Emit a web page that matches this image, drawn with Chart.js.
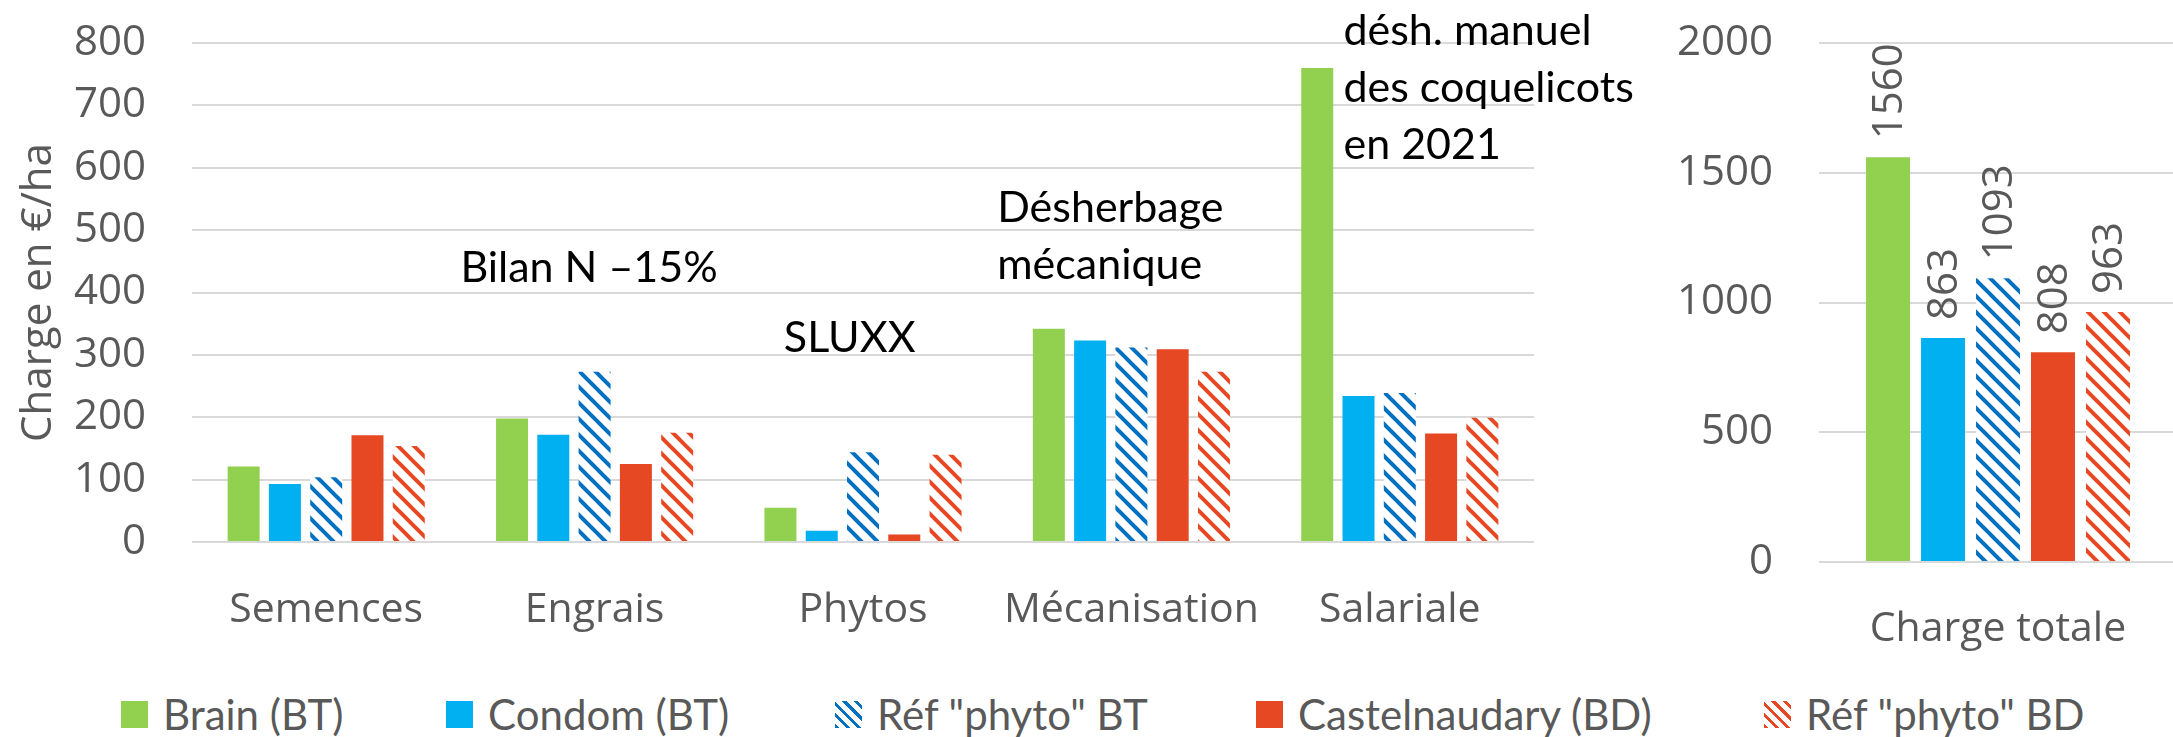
<!DOCTYPE html>
<html>
<head>
<meta charset="utf-8">
<script src="https://cdn.jsdelivr.net/npm/chart.js@4"></script>
<style>
  html, body { margin: 0; padding: 0; background: #fff; }
  body { width: 2173px; height: 737px; position: relative; overflow: hidden; }
  #left { position: absolute; left: 0; top: 0; width: 1700px; height: 660px; }
  #right { position: absolute; left: 1600px; top: 0; width: 577px; height: 660px; }
  .leg { position: absolute; top: 690px; height: 48px; line-height: 48px; display: flex; align-items: center;
         font-family: Lato, sans-serif; font-size: 42px; color: #595959; white-space: nowrap; }
  .leg i { display: inline-block; width: 27px; height: 27px; margin-right: 15px; }
</style>
</head>
<body>
<div id="left"><canvas id="leftChart"></canvas></div>
<div id="right"><canvas id="rightChart"></canvas></div>
<div id="legend"></div>
<script>
// categories and values
const categories = ['Semences', 'Engrais', 'Phytos', 'Mécanisation', 'Salariale'];
const seriesNames = ['Brain (BT)', 'Condom (BT)', 'Réf "phyto" BT', 'Castelnaudary (BD)', 'Réf "phyto" BD'];
const brain = [121, 198, 55, 342, 760];
const condom = [93, 172, 18, 323, 234];
const refBT = [104, 273, 144, 312, 239];
const castel = [171, 125, 12, 309, 174];
const refBD = [154, 175, 140, 273, 199];

const totalCategory = ['Charge totale'];
const totals = [1560, 863, 1093, 808, 963];

const leftMax = 800, leftStep = 100;
const rightMax = 2000, rightStep = 500;

// notes written on the left chart: text lines, category position, value of first baseline
const noteLines = [['Bilan N –15%'], ['SLUXX'], ['Désherbage', 'mécanique'], ['désh. manuel', 'des coquelicots', 'en 2021']];
const notePos = [0.5, 1.705, 2.5, 3.79];
const noteValue = [417, 304, 513, 796];

const colors = ['#92D050', '#00B0F0', '#0070C0', '#E64823', '#E64823'];
const hatched = [false, false, true, false, true];

function hatch(color) {
    const c = document.createElement('canvas');
    c.width = 16; c.height = 16;
    const g = c.getContext('2d');
    g.fillStyle = '#fff';
    g.fillRect(0, 0, 16, 16);
    g.strokeStyle = color;
    g.lineWidth = 4;
    for (const x0 of [-16, 0, 16]) {
        g.beginPath();
        g.moveTo(x0 - 2, -2);
        g.lineTo(x0 + 18, 18);
        g.stroke();
    }
    return g.createPattern(c, 'repeat');
}

function fillFor(i) {
    return hatched[i] ? hatch(colors[i]) : colors[i];
}

const gray = '#595959';
const axisFont = { family: '"Open Sans", sans-serif', size: 42 };
const catFont = { family: '"Open Sans", sans-serif', size: 41 };

const notesPlugin = {
    id: 'notes',
    afterDatasetsDraw(chart) {
        const ctx = chart.ctx;
        const x = chart.scales.x, y = chart.scales.y;
        ctx.save();
        ctx.fillStyle = '#000';
        ctx.font = '43px Lato, sans-serif';
        ctx.textAlign = 'left';
        ctx.textBaseline = 'alphabetic';
        noteLines.forEach((lines, i) => {
            const px = x.getPixelForValue(notePos[i]);
            const py = y.getPixelForValue(noteValue[i]);
            lines.forEach((t, k) => ctx.fillText(t, px, py + k * 57));
        });
        ctx.restore();
    }
};

const valueLabels = {
    id: 'valueLabels',
    afterDatasetsDraw(chart) {
        const ctx = chart.ctx;
        ctx.save();
        ctx.fillStyle = gray;
        ctx.font = '42px "Open Sans", sans-serif';
        ctx.textAlign = 'left';
        ctx.textBaseline = 'middle';
        chart.data.datasets.forEach((ds, i) => {
            chart.getDatasetMeta(i).data.forEach((bar, j) => {
                ctx.save();
                ctx.translate(bar.x, bar.y - 18);
                ctx.rotate(-Math.PI / 2);
                ctx.fillText(String(ds.data[j]), 0, 2);
                ctx.restore();
            });
        });
        ctx.restore();
    }
};

// invisible tick marks give the gap between labels and plot
function gridOpts() {
    return { color: '#D9D9D9', lineWidth: 2, drawTicks: true, tickLength: 46, tickColor: 'rgba(0,0,0,0)' };
}

const plain = v => String(v);

const leftSeries = [brain, condom, refBT, castel, refBD];

new Chart(document.getElementById('leftChart'), {
    type: 'bar',
    data: {
        labels: categories,
        datasets: leftSeries.map((d, i) => ({
            label: seriesNames[i],
            data: d,
            backgroundColor: fillFor(i),
            borderWidth: 0,
            categoryPercentage: 0.769,
            barPercentage: 0.775
        }))
    },
    options: {
        responsive: true,
        maintainAspectRatio: false,
        devicePixelRatio: 1,
        animation: false,
        layout: { padding: { top: 43, right: 166, left: 0, bottom: 0 } },
        plugins: { legend: { display: false }, tooltip: { enabled: false } },
        scales: {
            x: {
                grid: { display: false },
                border: { display: false },
                ticks: { color: gray, font: catFont, padding: 36, maxRotation: 0 },
                afterFit: s => { s.height = 118; }
            },
            y: {
                min: 0, max: leftMax,
                grid: gridOpts(),
                border: { display: false },
                ticks: { stepSize: leftStep, color: gray, font: axisFont, padding: 0, callback: plain },
                title: {
                    display: true, text: 'Charge en €/ha', color: gray,
                    font: { family: '"Open Sans", sans-serif', size: 42 },
                    padding: { top: 14, bottom: 0 }
                },
                afterFit: s => { s.width = 192; }
            }
        }
    },
    plugins: [notesPlugin]
});

new Chart(document.getElementById('rightChart'), {
    type: 'bar',
    data: {
        labels: totalCategory,
        datasets: totals.map((v, i) => ({
            label: seriesNames[i],
            data: [v],
            backgroundColor: fillFor(i),
            borderWidth: 0,
            categoryPercentage: 0.768,
            barPercentage: 0.8
        }))
    },
    options: {
        responsive: true,
        maintainAspectRatio: false,
        devicePixelRatio: 1,
        animation: false,
        layout: { padding: { top: 43, right: 0, left: 0, bottom: 0 } },
        plugins: { legend: { display: false }, tooltip: { enabled: false } },
        scales: {
            x: {
                grid: { display: false },
                border: { display: false },
                ticks: { color: gray, font: catFont, padding: 35, maxRotation: 0 },
                afterFit: s => { s.height = 98; }
            },
            y: {
                min: 0, max: rightMax,
                grid: gridOpts(),
                border: { display: false },
                ticks: { stepSize: rightStep, color: gray, font: axisFont, padding: 0, callback: plain },
                afterFit: s => { s.width = 219; }
            }
        }
    },
    plugins: [valueLabels]
});

// legend, one entry per series
const legendX = [121, 446, 835, 1256, 1764];
const legend = document.getElementById('legend');
seriesNames.forEach((name, i) => {
    const item = document.createElement('div');
    item.className = 'leg';
    item.style.left = legendX[i] + 'px';
    const sw = document.createElement('i');
    sw.style.background = hatched[i]
        ? 'repeating-linear-gradient(45deg, ' + colors[i] + ' 0 3px, #fff 3px 8px)'
        : colors[i];
    item.appendChild(sw);
    item.appendChild(document.createTextNode(name));
    legend.appendChild(item);
});
</script>
</body>
</html>
